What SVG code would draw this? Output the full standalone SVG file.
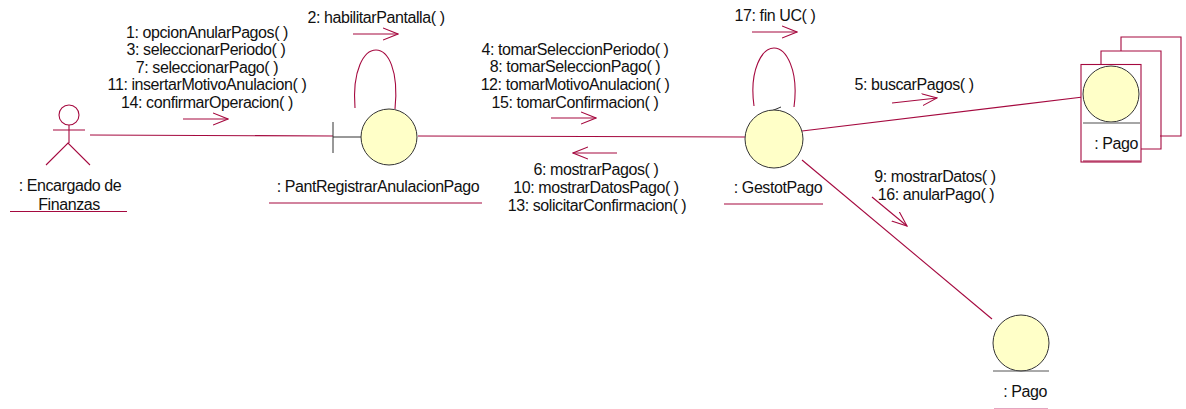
<svg xmlns="http://www.w3.org/2000/svg" width="1186" height="409" viewBox="0 0 1186 409">
<style>
text{font-family:"Liberation Sans",Arial,sans-serif;font-size:16px;fill:#111;text-anchor:middle;letter-spacing:-.42px}
.l{fill:none;stroke:#a5093f;stroke-width:1.1}
.c{fill:#ffffc8;stroke:#333;stroke-width:1}
.g{stroke:#555;stroke-width:1;fill:none}
</style>
<defs>
<marker id="a" viewBox="0 0 16 14" refX="15" refY="7" markerWidth="16" markerHeight="14" markerUnits="userSpaceOnUse" orient="auto"><path d="M0 1L15 7L0 13" fill="none" stroke="#a5093f" stroke-width="1.1"/></marker>
</defs>
<rect width="1186" height="409" fill="#fff"/>
<g id="connectors">
<path class="l" d="M90 135L333 136"/>
<path class="l" d="M418 136L745 137"/>
<path class="l" d="M802 131L1083 97"/>
<path class="l" d="M802 160L992 319"/>
<path class="l" d="M355 108C352 70 364 50 376 50C388 50 399 70 395 109"/>
<path class="l" d="M754 106C749 70 762 48 774 48C786 48 799 70 794 107"/>
<path class="l" marker-end="url(#a)" d="M353 34H398"/>
<path class="l" marker-end="url(#a)" d="M183 119H228"/>
<path class="l" marker-end="url(#a)" d="M551 118H596"/>
<path class="l" marker-end="url(#a)" d="M617 153H573"/>
<path class="l" marker-end="url(#a)" d="M752 32H797"/>
<path class="l" marker-end="url(#a)" d="M892 103L937 98"/>
<path class="l" marker-end="url(#a)" d="M872 197L907 226"/>
<path d="M769 112L781 107M769 112L781 117" fill="none" stroke="#333" stroke-width="1"/>
</g>
<g id="labels">
<text x="207" y="38">1: opcionAnularPagos( )</text>
<text x="206" y="55">3: seleccionarPeriodo( )</text>
<text x="207" y="73">7: seleccionarPago( )</text>
<text x="207" y="90">11: insertarMotivoAnulacion( )</text>
<text x="207" y="108">14: confirmarOperacion( )</text>
<text x="376" y="23">2: habilitarPantalla( )</text>
<text x="575" y="55">4: tomarSeleccionPeriodo( )</text>
<text x="575" y="72">8: tomarSeleccionPago( )</text>
<text x="575" y="90">12: tomarMotivoAnulacion( )</text>
<text x="575" y="108">15: tomarConfirmacion( )</text>
<text x="596" y="175">6: mostrarPagos( )</text>
<text x="596" y="193">10: mostrarDatosPago( )</text>
<text x="597" y="211">13: solicitarConfirmacion( )</text>
<text x="775" y="21">17: fin UC( )</text>
<text x="914" y="90">5: buscarPagos( )</text>
<text x="935" y="182">9: mostrarDatos( )</text>
<text x="936" y="200">16: anularPago( )</text>
</g>
<g id="actor">
<circle class="l" cx="69" cy="115" r="10"/>
<path class="l" d="M69 125V143M53 130H85M46 165L68 143L90 165"/>
<text x="70" y="191">: Encargado de</text>
<text x="69" y="210">Finanzas</text>
<path class="l" d="M10 211.500H127"/>
</g>
<g id="pantRegistrar">
<path d="M333 122V153M333 137H361" fill="none" stroke="#333" stroke-width="1"/>
<circle class="c" cx="389" cy="137" r="28"/>
<text x="378" y="192">: PantRegistrarAnulacionPago</text>
<path class="l" d="M269 203H482"/>
</g>
<g id="gestotPago">
<circle class="c" cx="774" cy="139" r="29"/>
<text x="778" y="193">: GestotPago</text>
<path class="l" d="M724 204H823"/>
</g>
<g id="pagoMulti">
<path class="l" d="M1121 51V37H1181V136H1160"/>
<path class="l" d="M1101 64V51H1161V149H1141"/>
<rect x="1081" y="64.500" width="60" height="97.500" fill="#fff" stroke="#a5093f" stroke-width="1.100"/>
<path class="l" d="M1083 161H1140"/>
<circle class="c" cx="1111" cy="94" r="28"/>
<path d="M1083 123H1140" stroke="#888" stroke-width="1.500"/>
<text x="1116" y="149">: Pago</text>
</g>
<g id="pago">
<circle class="c" cx="1021" cy="343" r="28"/>
<path class="g" d="M993 371H1049"/>
<text x="1025" y="397">: Pago</text>
<path d="M994 408.500H1048" stroke="#e6a5c0" stroke-width="1"/>
</g>
</svg>
